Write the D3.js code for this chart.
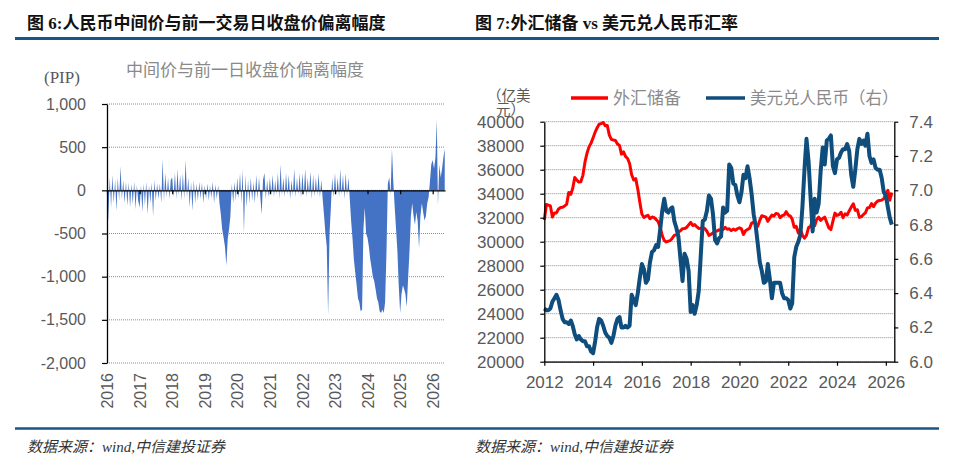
<!DOCTYPE html>
<html><head><meta charset="utf-8">
<script src="https://cdn.jsdelivr.net/npm/d3@7"></script>
<style>body{margin:0;background:#fff}</style>
</head><body><svg id="c" width="960" height="468"></svg>
<script>
// ---------- data: left chart (semi-monthly, from Jan 2016) ----------
const deviation = [
 -520,-300,150,-200,180,-150,120,-240,150,-120,280,-100,120,-150,100,-180,90,-200,80,-160,100,-220,60,-120,
 -200,60,-250,80,-180,100,-280,60,-150,90,-300,120,-120,80,-100,80,-150,360,-120,200,-80,150,-100,120,
 150,-80,200,-100,250,-60,180,-120,200,-100,350,-80,150,-200,100,-240,120,-150,80,-120,100,-100,90,-150,
 60,-100,80,-120,60,-90,100,-150,70,-100,60,-150,-280,-450,-550,-650,-870,-560,-450,-300,80,-150,100,-120,
 150,-100,200,-150,240,-500,180,-200,120,-150,150,-120,100,-150,180,-100,150,-80,-280,120,200,-100,120,-80,
 150,-60,180,-80,120,-50,200,-100,300,-60,150,-80,200,-50,180,-100,120,-60,250,-80,150,-50,200,-90,
 200,-60,250,-80,150,-50,220,-100,180,-70,150,-60,200,-80,120,-100,-300,-500,-650,-1450,-500,-200,150,-80,
 200,-60,150,-80,250,-50,180,-100,200,-60,150,-100,-350,-550,-800,-950,-1100,-1250,-1300,-1400,-1380,-450,-200,-500,
 -550,-650,-800,-900,-1000,-1050,-1150,-1250,-1300,-1400,-1420,-1380,-1420,-1300,-700,80,150,-50,480,100,-200,-450,-700,-1100,
 -1420,-1200,-1100,-1150,-1200,-1350,-1000,-700,-300,-150,-300,-400,-250,-350,-670,-300,-150,-250,-350,-300,-150,-80,100,300,
 350,250,380,820,-180,300,150,250,380,480
];
const devYears = [2016,2017,2018,2019,2020,2021,2022,2023,2024,2025,2026];
const devTicks = [1000,500,0,-500,-1000,-1500,-2000];

// ---------- data: right chart (monthly, from Jan 2012) ----------
const reserves = [
 31812,33100,33050,32989,32061,32400,32400,32730,32850,32870,32980,33116,
 34100,33950,34426,35345,35148,34967,35000,35530,36627,37367,37900,38213,
 38666,39137,39480,39788,39838,39932,39660,39688,38877,38529,38473,38430,
 38134,38015,37300,37481,37111,36938,36513,35574,35141,35255,34383,33304,
 32309,32023,32126,32197,31917,32052,32011,31852,31664,31206,30516,30105,
 29982,30051,30091,30295,30536,30568,30807,30915,31085,31092,31193,31399,
 31615,31345,31428,31249,31106,31121,31179,31097,30870,30531,30617,30727,
 30879,30901,30988,30950,31010,31192,31037,31072,30924,31052,30956,31079,
 31155,31067,30606,30915,31017,31123,31544,31646,31426,31280,31785,32165,
 32107,32050,31700,31982,32218,32140,32359,32321,32006,32176,32224,32502,
 32216,32138,31880,31197,31278,30713,31041,30549,30290,30524,31175,31277,
 31845,31332,31839,32048,31765,31930,32043,31601,31151,31012,31718,32380,
 32193,32258,32457,32008,32320,32224,32564,32882,33164,32611,32659,32024,
 32090,32272,32407,32817,32853,33174,32920,33222,33387,33433,33464,33579,
 34000,34280,33450,34100
];
const usdcny = [
 6.31,6.30,6.30,6.31,6.35,6.37,6.39,6.36,6.30,6.25,6.23,6.23,
 6.22,6.24,6.21,6.16,6.13,6.15,6.13,6.12,6.12,6.09,6.09,6.06,
 6.05,6.12,6.20,6.25,6.24,6.21,6.17,6.15,6.14,6.11,6.15,6.21,
 6.25,6.26,6.20,6.20,6.21,6.20,6.21,6.39,6.36,6.33,6.40,6.49,
 6.57,6.54,6.46,6.48,6.58,6.64,6.65,6.68,6.67,6.77,6.88,6.95,
 6.88,6.87,6.89,6.90,6.82,6.78,6.73,6.60,6.47,6.63,6.60,6.53,
 6.29,6.33,6.28,6.33,6.41,6.62,6.82,6.83,6.88,6.97,6.95,6.86,
 6.71,6.69,6.72,6.73,6.90,6.87,6.88,7.15,7.13,7.04,7.03,6.97,
 6.93,6.99,7.09,7.07,7.14,7.07,6.98,6.86,6.79,6.69,6.58,6.53,
 6.46,6.47,6.57,6.48,6.37,6.46,6.46,6.46,6.46,6.40,6.37,6.37,
 6.36,6.31,6.34,6.61,6.67,6.70,6.74,6.90,7.12,7.30,7.17,6.96,
 6.76,6.95,6.87,6.92,7.11,7.25,7.15,7.29,7.30,7.32,7.14,7.10,
 7.18,7.19,7.22,7.24,7.24,7.27,7.23,7.09,7.02,7.12,7.24,7.30,
 7.27,7.29,7.26,7.33,7.20,7.16,7.18,7.13,7.12,7.12,7.07,6.99,
 6.97,6.90,6.84,6.80
];
const fxYears = [2012,2014,2016,2018,2020,2022,2024,2026];
const resTicks = [20000,22000,24000,26000,28000,30000,32000,34000,36000,38000,40000];
const rateTicks = [6.0,6.2,6.4,6.6,6.8,7.0,7.2,7.4];

// ---------- drawing ----------
const svg = d3.select("#c");
const NUM = "'Liberation Sans', Arial, sans-serif";
const CJK = "'Noto Sans CJK SC', sans-serif";
const SERIF_CJK = "'Liberation Serif', 'Noto Sans CJK SC', serif";
const LABEL = "#595959";
const RULE = "#1B5585";

// header / footer rules
svg.append("line").attr("x1",15).attr("x2",939).attr("y1",38.5).attr("y2",38.5)
  .attr("stroke",RULE).attr("stroke-width",3);
svg.append("line").attr("x1",15).attr("x2",939).attr("y1",428.5).attr("y2",428.5)
  .attr("stroke",RULE).attr("stroke-width",2.5);

// titles
svg.append("text").attr("x",27).attr("y",29).attr("font-family",SERIF_CJK)
  .attr("font-weight","bold").attr("font-size",17).attr("fill","#111")
  .text("图 6:人民币中间价与前一交易日收盘价偏离幅度");
svg.append("text").attr("x",475).attr("y",29).attr("font-family",SERIF_CJK)
  .attr("font-weight","bold").attr("font-size",17).attr("fill","#111")
  .text("图 7:外汇储备 vs 美元兑人民币汇率");

// footers
[27,475].forEach(x=>{
  svg.append("text").attr("x",x).attr("y",452).attr("font-family",SERIF_CJK)
    .attr("font-style","italic").attr("font-size",15).attr("fill","#333")
    .text("数据来源：wind,中信建投证券");
});

function styleAxis(g, size){
  g.attr("font-family",NUM).attr("font-size",size);
  g.selectAll("text").attr("fill",LABEL);
  g.selectAll("line").attr("stroke","#000").attr("stroke-width",1.2);
  g.select(".domain").attr("stroke","#000").attr("stroke-width",1.3);
}

// ===== Left chart =====
const devDates = deviation.map((v,i)=> new Date(2016, Math.floor(i/2), i%2 ? 16 : 1));
const xL = d3.scaleTime().domain([new Date(2016,0,1), new Date(2026,4,19)]).range([107,445]);
const yL = d3.scaleLinear().domain([-2000,1000]).range([363,104]);

svg.append("g").selectAll("line").data(devTicks).join("line")
  .attr("x1",107).attr("x2",445).attr("y1",d=>yL(d)).attr("y2",d=>yL(d))
  .attr("stroke","#8c8c8c").attr("stroke-width",1).attr("stroke-dasharray","1,1");

const devArea = d3.area().x((d,i)=>xL(devDates[i])).y0(yL(0)).y1(d=>yL(d));
svg.append("path").datum(deviation).attr("d",devArea).attr("fill","#4472C4");

svg.append("g").attr("transform","translate(107,0)")
  .call(d3.axisLeft(yL).tickValues(devTicks).tickSize(5).tickSizeOuter(0).tickPadding(16)
    .tickFormat(d=>d3.format(",")(d).replace("\u2212","-")))
  .call(g=>styleAxis(g,16));

svg.append("g").attr("transform",`translate(0,${yL(0)})`)
  .call(d3.axisBottom(xL).tickValues(devYears.map(y=>new Date(y,0,1))).tickSize(4).tickSizeOuter(0).tickFormat(""))
  .call(g=>styleAxis(g,16));

svg.append("g").attr("transform",`translate(0,${yL(-2000)})`)
  .call(d3.axisBottom(xL).tickValues(devYears.map(y=>new Date(y,0,1))).tickSize(0).tickFormat(d3.timeFormat("%Y")))
  .call(g=>{ g.select(".domain").remove(); styleAxis(g,16); })
  .selectAll("text").attr("transform","rotate(-90)").attr("x",-10).attr("y",0)
  .attr("dy","0.35em").attr("text-anchor","end");

svg.append("text").attr("x",44).attr("y",83).attr("font-family","'Liberation Serif', serif")
  .attr("font-size",17).attr("fill",LABEL).text("(PIP)");
svg.append("text").attr("x",126).attr("y",76).attr("font-family",CJK)
  .attr("font-size",17).attr("fill","#8a8a8a").text("中间价与前一日收盘价偏离幅度");

// ===== Right chart =====
const mDates = reserves.map((v,i)=> new Date(2012, i, 1));
const xR = d3.scaleTime().domain([new Date(2012,0,1), new Date(2026,4,8)]).range([544.3,894.3]);
const yRes = d3.scaleLinear().domain([20000,40000]).range([361.7,121.7]);
const yFx = d3.scaleLinear().domain([6.0,7.4]).range([361.7,121.7]);

svg.append("g").selectAll("line").data(resTicks).join("line")
  .attr("x1",544.3).attr("x2",894.3).attr("y1",d=>yRes(d)).attr("y2",d=>yRes(d))
  .attr("stroke","#8c8c8c").attr("stroke-width",1).attr("stroke-dasharray","1,1");

// unit label (wrapped, as in the reference)
svg.append("text").attr("x",487).attr("y",101).attr("font-family",CJK).attr("font-size",14.5)
  .attr("fill",LABEL).text("（亿美");
svg.append("text").attr("x",496).attr("y",115).attr("font-family",CJK).attr("font-size",14.5)
  .attr("fill",LABEL).text("元）");

svg.append("path").datum(reserves)
  .attr("d",d3.line().x((d,i)=>xR(mDates[i])).y(d=>yRes(d)))
  .attr("fill","none").attr("stroke","#FF0000").attr("stroke-width",3).attr("stroke-linejoin","round");
svg.append("path").datum(usdcny)
  .attr("d",d3.line().x((d,i)=>xR(mDates[i])).y(d=>yFx(d)))
  .attr("fill","none").attr("stroke","#0E4D7C").attr("stroke-width",4).attr("stroke-linejoin","round");

svg.append("g").attr("transform","translate(544.3,0)")
  .call(d3.axisLeft(yRes).tickValues(resTicks).tickSize(4).tickSizeOuter(0).tickPadding(16).tickFormat(d3.format("d")))
  .call(g=>styleAxis(g,17));
svg.append("g").attr("transform","translate(894.3,0)")
  .call(d3.axisRight(yFx).tickValues(rateTicks).tickSize(4).tickSizeOuter(0).tickPadding(11).tickFormat(d3.format(".1f")))
  .call(g=>styleAxis(g,17));
svg.append("g").attr("transform","translate(0,361.7)")
  .call(d3.axisBottom(xR).tickValues(fxYears.map(y=>new Date(y,0,1))).tickSize(4).tickSizeOuter(0).tickPadding(10).tickFormat(d3.timeFormat("%Y")))
  .call(g=>styleAxis(g,17));

// legend
svg.append("line").attr("x1",571).attr("x2",608).attr("y1",98).attr("y2",98).attr("stroke","#FF0000").attr("stroke-width",3.5);
svg.append("text").attr("x",613).attr("y",104).attr("font-family",CJK).attr("font-size",17).attr("fill","#8a8a8a").text("外汇储备");
svg.append("line").attr("x1",706).attr("x2",745).attr("y1",98).attr("y2",98).attr("stroke","#0E4D7C").attr("stroke-width",3.5);
svg.append("text").attr("x",750).attr("y",104).attr("font-family",CJK).attr("font-size",16.5).attr("fill","#8a8a8a").text("美元兑人民币（右）");
</script>
</body></html>
